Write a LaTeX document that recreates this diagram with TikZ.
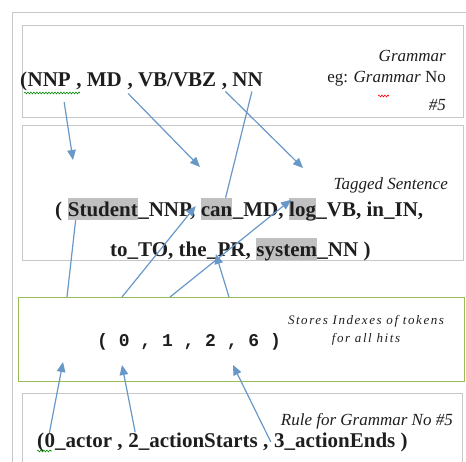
\documentclass[tikz,border=0pt]{standalone}
\usepackage{fontspec}
\setmainfont{Liberation Serif}
\setmonofont{Liberation Mono}
\usetikzlibrary{calc,arrows.meta,decorations.pathmorphing}
\definecolor{boxgray}{RGB}{200,200,200}
\definecolor{boxgreen}{RGB}{155,187,89}
\definecolor{linkblue}{RGB}{104,152,200}
\definecolor{hlgray}{RGB}{192,192,192}
\definecolor{inkgray}{RGB}{30,30,30}

\begin{document}
\begin{tikzpicture}[x=1pt,y=-1pt,
  box/.style={draw=boxgray, line width=1pt, inner sep=0pt, anchor=north west},
  word/.style={inner sep=0pt, anchor=base west, text=inkgray,
    font=\fontsize{21}{21}\selectfont\bfseries},
  hl/.style={word, fill=hlgray, text height=19pt, text depth=3pt},
  note/.style={inner sep=0pt, anchor=base east, text=inkgray,
    font=\fontsize{17}{20}\selectfont\itshape},
  link/.style={draw=linkblue, line width=1.2pt},
  arr/.style={link, -{Triangle[length=10pt,width=8.5pt]}},
  squig/.style={decorate, line width=0.6pt,
    decoration={snake, amplitude=0.9pt, segment length=3pt}}]
  \useasboundingbox (0,0) rectangle (466,462);
  \draw[boxgray, line width=0.8pt] (12,470) -- (12,12) -- (470,12);
  % the four boxes
  \node[box, minimum width=441pt, minimum height=92pt] (grammar) at (22,25) {};
  \node[box, minimum width=441pt, minimum height=135pt] (tagged) at (22,125) {};
  \node[box, draw=boxgreen, line width=1.3pt, minimum width=446pt,
    minimum height=84pt] (indexes) at (18,297) {};
  \node[box, minimum width=440pt, minimum height=90pt] (rule) at (22,393) {};

  % grammar
  \node[word] (g0) at (20,87) {(};
  \node[word] (nnp) at (g0.base east) {NNP};
  \node[word] (md) at (nnp.base east) {\ ,\ MD};
  \node[word] (vbz) at (md.base east) {\ ,\ VB/VBZ};
  \node[word] (nn) at (vbz.base east) {\ ,\ NN};
  \node[note] (gname) at (446,62) {Grammar};
  \node[note] (geg) at (446,83) {{\upshape eg:} Grammar {\upshape No}};
  \node[note] (gnum) at (446,111) {\#5};
  \draw[squig, green!55!black] (24,93) -- (80,93);
  \draw[squig, red] (378,96) -- (389,96);

  % tagged sentence
  \node[note] (tlabel) at (448,190) {Tagged Sentence};
  \node[word] (t0) at (55,217) {(\ \null};
  \node[hl] (student) at (t0.base east) {Student};
  \node[word] (t1) at (student.base east) {\_NNP,\ \null};
  \node[hl] (can) at (t1.base east) {can};
  \node[word] (t2) at (can.base east) {\_MD,\ \null};
  \node[hl] (log) at (t2.base east) {log};
  \node[word] (t3) at (log.base east) {\_VB, in\_IN,};
  \node[word] (t4) at (110,257) {to\_TO, the};
  \node[word] (pr) at (t4.base east) {\_PR,\ \null};
  \node[hl] (system) at (pr.base east) {system};
  \node[word] (t5) at (system.base east) {\_NN )};

  % indexes
  \node[word, font=\fontsize{18}{18}\selectfont\ttfamily\bfseries] (idx)
    at (97,347) {( 0 , 1 , 2 , 6 )};
  \node[note, anchor=base, align=center,
    font=\fontsize{13}{18}\selectfont\itshape\addfontfeature{LetterSpace=12}]
    (ilabel) at (366,343) {Stores Indexes of tokens\\for all hits};

  % rule
  \node[note] (rlabel) at (453,425) {Rule for Grammar No \#5};
  \node[word] (r0) at (37,447) {(};
  \node[word] (actor) at (r0.base east) {0\_actor\ ,\ \null};
  \node[word] (starts) at (actor.base east) {2\_actionStarts\ ,\ \null};
  \node[word] (ends) at (starts.base east) {3\_actionEnds )};
  \draw[squig, green!55!black] (37,451) -- (52,451);

  % grammar tags -> tagged words
  \coordinate (s0) at (73,160);
  \coordinate (s1) at (200,167);
  \coordinate (s2) at (303,168);
  \draw[arr] ($(nnp.south)+(15,15)$) -- (s0);
  \draw[arr] ($(md.south east)+(6,3)$) -- (s1);
  \draw[arr] ($(vbz.south east)+(9,1)$) -- (s2);
  \draw[link] ($(nn.south east)+(-11,1)$) -- ($(can.north east)+(-7,0)$);

  % indexes -> tagged words
  \draw[link] ($(indexes.north west)+(49,0)$) -- ($(student.south west)+(8,0)$);
  \draw[arr] ($(indexes.north west)+(104,0)$) -- ($(can.west)+(-5,-3)$);
  \draw[arr] ($(indexes.north west)+(152,0)$) -- ($(log.north west)+(2,2)$);
  \draw[arr] ($(indexes.north west)+(211,0)$) -- ($(pr.base west)+(9,-3)$);

  % rule -> indexes
  \coordinate (i0) at (63,362);
  \coordinate (i1) at (122,365);
  \coordinate (i2) at (233,365);
  \draw[arr] ($(actor.north west)+(5,0)$) -- (i0);
  \draw[arr] ($(starts.north west)+(7,0)$) -- (i1);
  \draw[arr] ($(ends.west)+(-3,0)$) -- (i2);
\end{tikzpicture}
\end{document}
